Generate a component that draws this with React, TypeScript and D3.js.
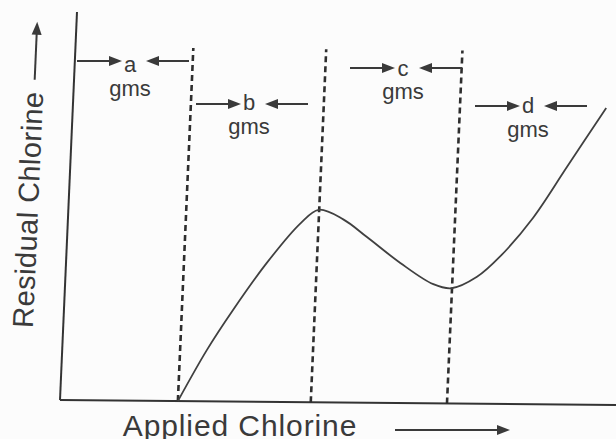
import React from "react";
import * as d3 from "d3";

// ---- Data (abstract units: applied chlorine 0–10, residual chlorine 0–10) ----
const appliedChlorine = [2.12, 2.6, 3.04, 3.61, 4.18, 4.5, 4.95, 5.39, 6.01, 6.62, 6.95, 7.4, 7.8, 8.36, 8.93, 9.59];
const residualChlorine = [0, 1.32, 2.36, 3.58, 4.6, 4.96, 4.72, 4.27, 3.61, 3.07, 2.97, 3.27, 3.8, 4.8, 6.12, 7.65];
const breakpoints = [2.12, 4.51, 6.96];
const breakpointTop = 9.1;
const zoneLabels = ["a", "b", "c", "d"];
const zoneUnit = "gms";
const xTitle = "Applied Chlorine";
const yTitle = "Residual Chlorine";

// ---- Layout ----
const W = 616;
const H = 439;
const OX = 60;
const OY = 400;
const SHEAR = 0.0438;
const TILT = 0.009;
const FONT = "'Liberation Sans', Arial, Helvetica, sans-serif";
const INK = "#3a3a3a";

// annotation layout: letter centre, arrow row, letter baseline, unit baseline
const annotLayout = [
  { cx: 130, ay: 61, by: 72, gy: 96 },
  { cx: 249, ay: 104, by: 110, gy: 134 },
  { cx: 403, ay: 68, by: 76, gy: 99 },
  { cx: 528, ay: 106, by: 113, gy: 137 },
];

const xScale = d3.scaleLinear().domain([0, 10]).range([0, 556]);
const yScale = d3.scaleLinear().domain([0, 10]).range([0, -388]);

function RightArrow({ x1, x2, y }: { x1: number; x2: number; y: number }) {
  return (
    <g>
      <line x1={x1} x2={x2 - 8} y1={y} y2={y} stroke={INK} strokeWidth={2} />
      <polygon points={`${x2},${y} ${x2 - 13},${y - 5} ${x2 - 13},${y + 5}`} fill={INK} />
    </g>
  );
}
function LeftArrow({ x1, x2, y }: { x1: number; x2: number; y: number }) {
  return (
    <g>
      <line x1={x1 + 8} x2={x2} y1={y} y2={y} stroke={INK} strokeWidth={2} />
      <polygon points={`${x1},${y} ${x1 + 13},${y - 5} ${x1 + 13},${y + 5}`} fill={INK} />
    </g>
  );
}

export default function App() {
  const pts: [number, number][] = appliedChlorine.map((x, i) => [x, residualChlorine[i]]);
  const line = d3
    .line<[number, number]>()
    .x((d) => xScale(d[0]))
    .y((d) => yScale(d[1]))
    .curve(d3.curveCatmullRom.alpha(0.5));

  return (
    <svg
      width={W}
      height={H}
      style={{ position: "absolute", left: 0, top: 0, display: "block" }}
      fontFamily={FONT}
    >
      <rect width={W} height={H} fill="#fcfcfc" />
      <g transform={`matrix(1,${TILT},${-SHEAR},1,${OX},${OY})`}>
        {/* axes */}
        <line x1={0} y1={0} x2={xScale(10)} y2={0} stroke="#333" strokeWidth={2} />
        <line x1={0} y1={0} x2={0} y2={yScale(10)} stroke="#333" strokeWidth={2} />
        {/* breakpoint dashed lines */}
        {breakpoints.map((b, i) => (
          <line
            key={i}
            x1={xScale(b)}
            x2={xScale(b)}
            y1={0}
            y2={yScale(breakpointTop)}
            stroke="#2e2e2e"
            strokeWidth={2.6}
            strokeDasharray="6,4"
          />
        ))}
        {/* curve */}
        <path d={line(pts) || ""} fill="none" stroke="#404040" strokeWidth={1.8} />
      </g>

      {/* zone annotations */}
      {zoneLabels.map((lab, i) => {
        const a = annotLayout[i];
        return (
          <g key={lab}>
            <RightArrow x1={a.cx - 53} x2={a.cx - 8} y={a.ay} />
            <LeftArrow x1={a.cx + 16} x2={a.cx + 59} y={a.ay} />
            <text x={a.cx} y={a.by} textAnchor="middle" fontSize={22} fill={INK}>
              {lab}
            </text>
            <text x={a.cx} y={a.gy} textAnchor="middle" fontSize={22} fill={INK}>
              {zoneUnit}
            </text>
          </g>
        );
      })}

      {/* x title */}
      <text x={240} y={436} textAnchor="middle" fontSize={30} letterSpacing={0.9} fill={INK}>
        {xTitle}
      </text>
      <line x1={395} x2={500} y1={430} y2={430} stroke={INK} strokeWidth={2} />
      <polygon points={`510,430 497,425 497,435`} fill={INK} />

      {/* y title */}
      <g transform="translate(38,210) rotate(-87.5)">
        <text x={0} y={0} textAnchor="middle" fontSize={29} letterSpacing={0.45} fill={INK}>
          {yTitle}
        </text>
        <line x1={130} x2={178} y1={-9} y2={-9} stroke={INK} strokeWidth={2} />
        <polygon points={`188,-9 175,-14 175,-4`} fill={INK} />
      </g>
    </svg>
  );
}
